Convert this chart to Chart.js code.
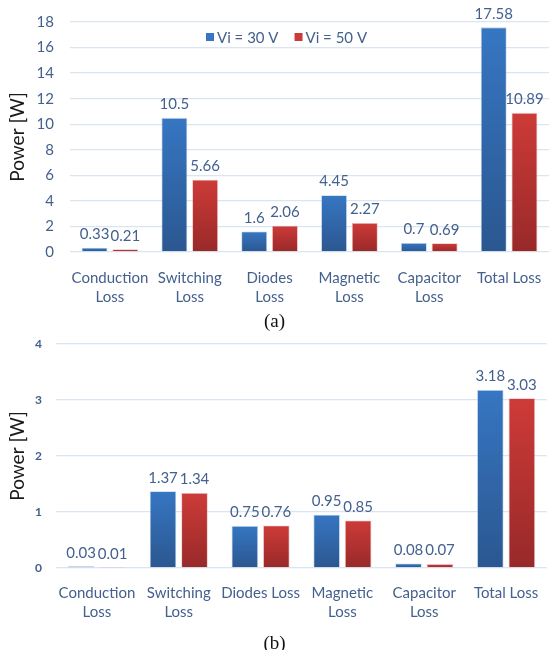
<!DOCTYPE html>
<html>
<head>
<meta charset="utf-8">
<script src="https://cdn.jsdelivr.net/npm/chart.js@4/dist/chart.umd.min.js"></script>
<style>
  html, body { margin: 0; padding: 0; background: #ffffff; }
  #page { position: relative; width: 549px; height: 650px; overflow: hidden; }
  .wrap { position: absolute; left: 0; width: 549px; }
  .cap { position: absolute; left: 0; width: 549px; text-align: center;
         font-family: "Liberation Serif", "DejaVu Serif", serif; font-size: 19px; color: #111; }
</style>
</head>
<body>
<div id="page">
  <div class="wrap" style="top:0;height:312px;"><canvas id="chartA"></canvas></div>
  <div class="cap" style="top:310px;">(a)</div>
  <div class="wrap" style="top:320px;height:306px;"><canvas id="chartB"></canvas></div>
  <div class="cap" style="top:632px;">(b)</div>
</div>
<script>
// ---------- data ----------
const categoriesA = [["Conduction","Loss"],["Switching","Loss"],["Diodes","Loss"],["Magnetic","Loss"],["Capacitor","Loss"],"Total Loss"];
const categoriesB = [["Conduction","Loss"],["Switching","Loss"],"Diodes Loss",["Magnetic","Loss"],["Capacitor","Loss"],"Total Loss"];
const seriesNames = ["Vi = 30 V", "Vi = 50 V"];
const vi30A = [0.33, 10.5, 1.6, 4.45, 0.7, 17.58];
const vi50A = [0.21, 5.66, 2.06, 2.27, 0.69, 10.89];
const vi30B = [0.03, 1.37, 0.75, 0.95, 0.08, 3.18];
const vi50B = [0.01, 1.34, 0.76, 0.85, 0.07, 3.03];
const yTicksA = [0, 2, 4, 6, 8, 10, 12, 14, 16, 18];
const yTicksB = [0, 1, 2, 3, 4];

// ---------- styles ----------
const FONT = "Lato, 'Open Sans', sans-serif";
const TEXT = '#44618e';
const GRID = '#dbe5f1';
const BLUE_TOP = '#3676c2', BLUE_BOT = '#2b5790';
const RED_TOP = '#cd3b38', RED_BOT = '#982929';

function gradFill(top, bot, solid) {
  return function(ctx) {
    const chart = ctx.chart;
    const y = chart.scales && chart.scales.y;
    if (!y || ctx.parsed === undefined || ctx.type !== 'data') return solid;
    const y0 = y.getPixelForValue(0);
    const y1 = y.getPixelForValue(ctx.parsed.y);
    if (!isFinite(y0) || !isFinite(y1) || Math.abs(y0 - y1) < 0.5) return top;
    const g = chart.ctx.createLinearGradient(0, y1, 0, y0);
    g.addColorStop(0, top);
    g.addColorStop(1, bot);
    return g;
  };
}

const valueLabels = {
  id: 'valueLabels',
  afterDatasetsDraw(chart, args, opts) {
    const ctx = chart.ctx;
    ctx.save();
    ctx.font = opts.size + 'px ' + FONT;
    ctx.fillStyle = TEXT;
    ctx.textAlign = 'center';
    ctx.textBaseline = 'bottom';
    chart.data.datasets.forEach((ds, di) => {
      const meta = chart.getDatasetMeta(di);
      meta.data.forEach((bar, i) => {
        ctx.fillText(String(ds.data[i]), bar.x, bar.y - opts.gap);
      });
    });
    ctx.restore();
  }
};

const customLegend = {
  id: 'customLegend',
  afterDraw(chart, args, opts) {
    const ctx = chart.ctx;
    ctx.save();
    ctx.font = opts.size + 'px ' + FONT;
    ctx.textBaseline = 'middle';
    ctx.textAlign = 'left';
    let x = opts.x;
    const y = opts.y;
    chart.data.datasets.forEach((ds, di) => {
      ctx.fillStyle = di === 0 ? BLUE_TOP : RED_TOP;
      ctx.fillRect(x, y - 4, 8, 8);
      x += 11;
      ctx.fillStyle = TEXT;
      ctx.fillText(ds.label, x, y + 1);
      x += ctx.measureText(ds.label).width + opts.spacing;
    });
    ctx.restore();
  }
};

function makeChart(id, cats, d30, d50, ticks, cfg) {
  return new Chart(document.getElementById(id), {
    type: 'bar',
    data: {
      labels: cats,
      datasets: [
        { label: seriesNames[0], data: d30, backgroundColor: gradFill(BLUE_TOP, BLUE_BOT, BLUE_TOP),
          borderColor: 'rgba(120,160,215,0.5)', borderWidth: 0.8, borderSkipped: 'bottom' },
        { label: seriesNames[1], data: d50, backgroundColor: gradFill(RED_TOP, RED_BOT, RED_TOP),
          borderColor: 'rgba(220,120,120,0.5)', borderWidth: 0.8, borderSkipped: 'bottom' }
      ]
    },
    options: {
      responsive: true,
      maintainAspectRatio: false,
      animation: false,
      devicePixelRatio: 1,
      layout: { padding: { top: cfg.padTop, right: cfg.padRight, bottom: 0, left: 0 } },
      categoryPercentage: 0.77,
      barPercentage: 0.84,
      plugins: {
        legend: { display: false },
        tooltip: { enabled: false },
        valueLabels: { size: cfg.valSize, gap: cfg.valGap },
        customLegend: { x: cfg.legX, y: cfg.legY, size: cfg.legSize, spacing: 16 }
      },
      scales: {
        x: {
          grid: { display: false, drawTicks: false },
          border: { display: false },
          ticks: { color: TEXT, font: { family: FONT, size: cfg.xSize, lineHeight: 1.27 }, padding: cfg.xPad, maxRotation: 0, autoSkip: false },
          afterFit(s) { s.height = cfg.xHeight; s.paddingLeft = 0; s.paddingRight = 0; }
        },
        y: {
          min: 0, max: ticks[ticks.length - 1],
          afterBuildTicks(s) { s.ticks = ticks.map(v => ({ value: v })); },
          grid: { color: GRID, lineWidth: 1.3, drawTicks: false },
          border: { display: false },
          ticks: { color: TEXT, font: { family: FONT, size: cfg.ySize, weight: cfg.yWeight }, padding: cfg.yPad },
          title: { display: true, text: 'Power [W]', color: '#1a1a1a', font: { family: FONT, size: 19 }, padding: { top: 6, bottom: 0 } },
          afterFit(s) { s.width = cfg.yWidth; s.paddingTop = 0; s.paddingBottom = 0; }
        }
      }
    },
    plugins: [valueLabels, customLegend]
  });
}

makeChart('chartA', categoriesA, vi30A, vi50A, yTicksA, {
  padTop: 22, padRight: 0, xHeight: 312 - 22 - 230 - 0, xPad: 17, xSize: 15,
  ySize: 15, yWeight: 'normal', yPad: 16, yWidth: 70,
  valSize: 15, valGap: 6, legX: 206, legY: 37, legSize: 15
});
makeChart('chartB', categoriesB, vi30B, vi50B, yTicksB, {
  padTop: 24, padRight: 2, xHeight: 306 - 24 - 224, xPad: 16, xSize: 15,
  ySize: 12, yWeight: 'bold', yPad: 14, yWidth: 56,
  valSize: 15, valGap: 6, legX: 214, legY: 371, legSize: 15
});
</script>
</body>
</html>
